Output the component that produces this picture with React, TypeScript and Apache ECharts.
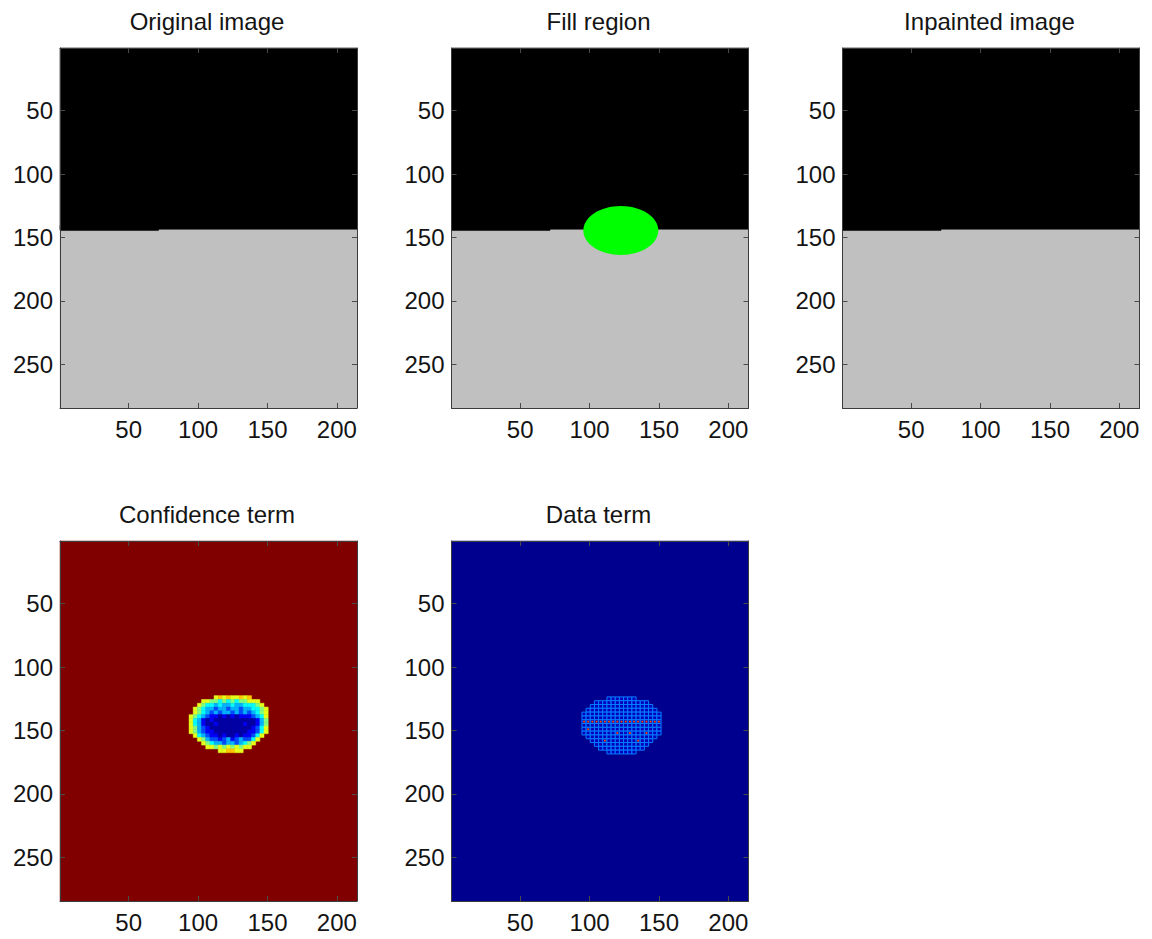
import React, { useEffect, useRef } from 'react';
import * as echarts from 'echarts';

// ---------- data ----------
const TITLES = ['Original image', 'Fill region', 'Inpainted image', 'Confidence term', 'Data term'];
const X_TICKS = [50, 100, 150, 200];
const Y_TICKS = [50, 100, 150, 200, 250];
const X_RANGE = [0.5, 214.5]; // image columns 1..214
const Y_RANGE = [0.5, 284.5]; // image rows 1..284

// grey-level scene, painted in order: [x0, x1, y0, y1, intensity]
const SCENE_REGIONS = [
  [0.5, 214.5, 0.5, 284.5, 0.753],
  [0.5, 214.5, 0.5, 143.5, 0],
  [0.5, 71.5, 140.5, 144.5, 0],
];
// fill region mask: [cx, cy, rx, ry]
const FILL_REGION = [[122.5, 144.5, 27, 19.3]];

// confidence term (jet scaled): background + 3x3 pixel blocks
const CONFIDENCE_BACKGROUND = [[0.5, 214.5, 0.5, 284.5, 1]];
const CONFIDENCE_ORIGIN = [93.5, 122.5];
const CONFIDENCE_BLOCK = 3;
const CONFIDENCE_LEVELS = [0.04, 0.12, 0.2, 0.3, 0.38, 0.5, 0.6, 0.68];
const CONFIDENCE_ROWS = [
  '......676766767....',
  '...66554545455666..',
  '..6544343343344456.',
  '.654332332332334456',
  '.654323233232323456',
  '6543211010101112346',
  '6431010000000000135',
  '6431001000000100135',
  '6532100000000001246',
  '6532110000000011246',
  '.64321101001011246.',
  '..653221231232246..',
  '...6543323323456...',
  '....66565656566....',
  '.......667766......',
];

// data term (jet scaled): background + mesh of 3x3 pixel cells, 'h' = cell with a hot value
const DATA_BACKGROUND = [[0.5, 214.5, 0.5, 284.5, 0.015]];
const DATA_ORIGIN = [94.5, 123.5];
const DATA_BLOCK = 3;
const DATA_LEVELS = { cell: 0.06, mesh: 0.25, hot: 0.8 };
const DATA_ROWS = [
  '......mmmmmmm......',
  '...mmmmmmmmmmmmm...',
  '..mmmmmmmmmmmmmmm..',
  '.mmmmmmmmmmmmmmmmm.',
  'mmmmmmmmmmmmmmmmmmm',
  'mmmmmmmmmmmmmmmmmmm',
  'hhhhhhhhhhhhhhhhhhh',
  'mmmmmmmmmmmmmmmmmmm',
  'mhmmmmmmmmmmmmmmmmm',
  'mmmmmmmmhmmhmmmhmmm',
  '.mmmmmmmmmmmmmmmmm.',
  '..mmmhmmmmmmmhmmm..',
  '...mmmmmmmmmmmmm...',
  '....mmmmmmmmmmm....',
  '......mmmmmmm......',
];

// ---------- layout / style ----------
const PANEL_BOXES = [
  [60, 48],
  [451.5, 48],
  [842.5, 48],
  [60, 541],
  [451.5, 541],
];
const PANEL_W = 297;
const PANEL_H = 360;
const FONT = "'Liberation Sans', Arial, Helvetica, sans-serif";
const TEXT_COLOR = '#141414';

function jet(v: number): string {
  const c = (x: number) => Math.round(255 * Math.max(0, Math.min(1, x)));
  return `rgb(${c(1.5 - Math.abs(4 * v - 3))},${c(1.5 - Math.abs(4 * v - 2))},${c(1.5 - Math.abs(4 * v - 1))})`;
}
function grey(v: number): string {
  const g = Math.round(255 * v);
  return `rgb(${g},${g},${g})`;
}

function blockItems(rows: string[], origin: number[], size: number, valueOf: (ch: string) => number) {
  const out: number[][] = [];
  rows.forEach((row, i) => {
    for (let j = 0; j < row.length; j++) {
      const ch = row[j];
      if (ch === '.') continue;
      out.push([
        origin[0] + j * size,
        origin[0] + (j + 1) * size,
        origin[1] + i * size,
        origin[1] + (i + 1) * size,
        valueOf(ch),
      ]);
    }
  });
  return out;
}

function rectOf(api: any) {
  const a = api.coord([api.value(0), api.value(2)]);
  const b = api.coord([api.value(1), api.value(3)]);
  return {
    x: Math.min(a[0], b[0]),
    y: Math.min(a[1], b[1]),
    width: Math.abs(b[0] - a[0]),
    height: Math.abs(b[1] - a[1]),
  };
}

function rectSeries(panel: number, data: number[][], colorOf: (v: number) => string) {
  return {
    type: 'custom',
    coordinateSystem: 'cartesian2d',
    xAxisIndex: panel * 2,
    yAxisIndex: panel * 2,
    data,
    silent: true,
    renderItem: (_p: any, api: any) => {
      const fill = colorOf(api.value(4));
      return { type: 'rect', shape: rectOf(api), style: { fill, stroke: fill, lineWidth: 0.5 } };
    },
  };
}

const App: React.FC = () => {
  const ref = useRef<HTMLDivElement>(null);

  useEffect(() => {
    if (!ref.current) return;
    const chart = echarts.init(ref.current, undefined, { renderer: 'svg' });

    const axisLine = { show: true, onZero: false, lineStyle: { color: '#3c3c3c', width: 1 } };
    const tickStyle = { color: '#4a4a4a', width: 1 };
    const labelStyle = { fontSize: 24, color: TEXT_COLOR, fontFamily: FONT };

    const xAxis: any[] = [];
    const yAxis: any[] = [];
    PANEL_BOXES.forEach((_b, i) => {
      xAxis.push({
        type: 'value', gridIndex: i, position: 'bottom', min: X_RANGE[0], max: X_RANGE[1], z: 5,
        axisLine, splitLine: { show: false },
        axisTick: { show: true, inside: true, length: 5, lineStyle: tickStyle, customValues: X_TICKS },
        axisLabel: { show: true, margin: 9, customValues: X_TICKS, ...labelStyle },
      });
      xAxis.push({
        type: 'value', gridIndex: i, position: 'top', min: X_RANGE[0], max: X_RANGE[1], z: 5,
        axisLine, splitLine: { show: false },
        axisTick: { show: true, inside: true, length: 5, lineStyle: tickStyle, customValues: X_TICKS },
        axisLabel: { show: false, customValues: X_TICKS },
      });
      yAxis.push({
        type: 'value', gridIndex: i, position: 'left', inverse: true, min: Y_RANGE[0], max: Y_RANGE[1], z: 5,
        axisLine, splitLine: { show: false },
        axisTick: { show: true, inside: true, length: 5, lineStyle: tickStyle, customValues: Y_TICKS },
        axisLabel: { show: true, margin: 7, customValues: Y_TICKS, ...labelStyle },
      });
      yAxis.push({
        type: 'value', gridIndex: i, position: 'right', inverse: true, min: Y_RANGE[0], max: Y_RANGE[1], z: 5,
        axisLine, splitLine: { show: false },
        axisTick: { show: true, inside: true, length: 5, lineStyle: tickStyle, customValues: Y_TICKS },
        axisLabel: { show: false, customValues: Y_TICKS },
      });
    });

    const confidenceBlocks = blockItems(CONFIDENCE_ROWS, CONFIDENCE_ORIGIN, CONFIDENCE_BLOCK,
      (ch) => CONFIDENCE_LEVELS[Number(ch)]);
    const dataBlocks = blockItems(DATA_ROWS, DATA_ORIGIN, DATA_BLOCK,
      (ch) => (ch === 'h' ? DATA_LEVELS.hot : 0));

    const series: any[] = [
      rectSeries(0, SCENE_REGIONS, grey),
      rectSeries(1, SCENE_REGIONS, grey),
      {
        type: 'custom', coordinateSystem: 'cartesian2d', xAxisIndex: 2, yAxisIndex: 2,
        data: FILL_REGION, silent: true,
        renderItem: (_p: any, api: any) => {
          const c = api.coord([api.value(0), api.value(1)]);
          const s = api.size([api.value(2), api.value(3)]);
          return {
            type: 'ellipse',
            shape: { cx: c[0], cy: c[1], rx: Math.abs(s[0]), ry: Math.abs(s[1]) },
            style: { fill: '#00ff00' },
          };
        },
      },
      rectSeries(2, SCENE_REGIONS, grey),
      rectSeries(3, CONFIDENCE_BACKGROUND, jet),
      rectSeries(3, confidenceBlocks, jet),
      rectSeries(4, DATA_BACKGROUND, jet),
      {
        type: 'custom', coordinateSystem: 'cartesian2d', xAxisIndex: 8, yAxisIndex: 8,
        data: dataBlocks, silent: true,
        renderItem: (_p: any, api: any) => {
          const r = rectOf(api);
          const children: any[] = [
            {
              type: 'rect', shape: r,
              style: { fill: jet(DATA_LEVELS.cell), stroke: jet(DATA_LEVELS.mesh), lineWidth: 1 },
            },
          ];
          const v = api.value(4);
          if (v > 0) {
            children.push({
              type: 'rect',
              shape: { x: r.x + r.width / 2 - 0.9, y: r.y + r.height / 2 - 0.9, width: 1.8, height: 1.8 },
              style: { fill: jet(v) },
            });
          }
          return { type: 'group', children };
        },
      },
    ];

    const option: any = {
      animation: false,
      backgroundColor: '#ffffff',
      title: PANEL_BOXES.map((b, i) => ({
        text: TITLES[i],
        left: b[0] + PANEL_W / 2 - 1.5,
        top: b[1] - 39,
        textAlign: 'center',
        padding: 0,
        textStyle: { fontSize: 24, fontWeight: 'normal', color: TEXT_COLOR, fontFamily: FONT },
      })),
      grid: PANEL_BOXES.map((b) => ({
        left: b[0], top: b[1], width: PANEL_W, height: PANEL_H,
        containLabel: false, outerBoundsMode: 'none',
      })),
      xAxis,
      yAxis,
      series,
    };
    chart.setOption(option);
    return () => chart.dispose();
  }, []);

  return (
    <div
      ref={ref}
      style={{ position: 'absolute', left: 0, top: 0, width: 1152, height: 939, background: '#fff' }}
    />
  );
};

export default App;
